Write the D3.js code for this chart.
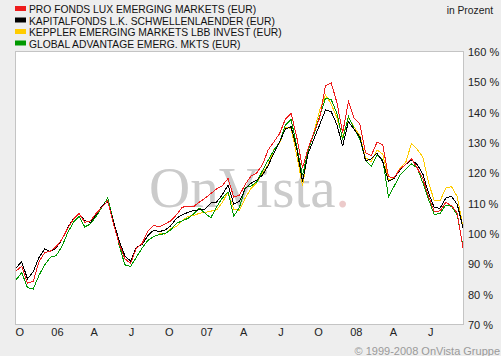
<!DOCTYPE html>
<html><head><meta charset="utf-8">
<script src="https://cdn.jsdelivr.net/npm/d3@7"></script>
<style>
html,body{margin:0;padding:0;background:#eeeeee;}
svg{display:block;font-family:"Liberation Sans",Arial,sans-serif;}
</style></head>
<body>
<svg id="chart" width="501" height="356"></svg>
<script>
// ---- data ----
const startDate = "2005-09-23";
const stepDays = 14;
const seriesNames = [
  "PRO FONDS LUX EMERGING MARKETS (EUR)",
  "KAPITALFONDS L.K. SCHWELLENLAENDER (EUR)",
  "KEPPLER EMERGING MARKETS LBB INVEST (EUR)",
  "GLOBAL ADVANTAGE EMERG. MKTS (EUR)"
];
const seriesColors = ["#ee1c1c", "#000000", "#ffcc00", "#009900"];
const proFonds = [87.5,89,83.5,84,90.5,93.5,94,95.5,97.8,101.5,104.5,106.5,103.5,104,106.5,108.5,110.6,103,96.5,91.5,90,95,96.5,100.5,102.5,102,103,104,106,108.5,108.8,108.7,110.2,111.5,113,114.5,115.6,118,111.8,112.5,116,118.8,119.8,122.5,127.4,130,132.8,137.5,139.5,131.5,121.5,128,133.2,138,148.5,149.5,143,133,143.3,137.8,136,126.5,125.5,130,129,118.5,118.3,121.1,122.6,124.5,121.5,117.8,112,107,107.3,110.1,109,106.5,95];
const kapitalfonds = [88.5,90.5,84.9,87.2,91.9,94.7,93.9,95,97.8,101.8,104.6,106.2,104.1,103.5,106.1,108.8,110.4,103.9,97.4,92.5,90.7,95.3,96.2,99.1,100.9,100.5,100.9,102.4,104.9,106,106.8,107.5,107.6,107.9,109.9,110.2,112.6,115.8,109.5,110.4,114.6,116.4,117.4,119.1,122.2,126.4,130,134.3,135,127.7,117,126.3,131.1,135.7,140.6,140,135.7,128.6,136.7,134.2,131.7,123.8,124.4,126.3,123.5,117,118.1,120.7,122.6,124.1,122.6,119.4,113.1,108.3,108.2,111.5,112.1,109.4,101.8];
const keppler = [null,null,null,null,null,null,null,null,null,null,null,null,null,null,null,null,null,null,null,null,null,null,null,null,null,100,99.6,101.5,102.2,104,105.5,105.8,106.5,106.8,107.2,107.6,110,113.6,107.8,107.5,111.5,114.7,116.5,119.8,122.5,127.5,129.5,134.8,134.5,125.5,115.5,127.4,133.4,140.5,145.5,142.5,138,131.5,138,135,132,124.8,123.5,127.4,126,117.5,118,121.4,123.2,129.5,127.6,125,116.5,110.6,110.6,114.8,115.3,112,102];
const globalAdv = [84.5,87,82,81.5,86,89.5,92,92.5,95.5,100,103.5,105.5,102,103,105.5,108.5,111.5,104,96,89.5,89,92,95,97.5,98.8,99.5,99.8,101,103.2,104,104.8,106.3,108.2,106.5,105,108.6,111.5,113.5,105.5,108.5,115,115.5,116.8,120.5,124,127.3,130,135.5,137.5,128.5,119,127.4,132.8,138.5,144.5,144,139.5,130.7,138.5,134.3,131,124,122,125.7,124,112,115.5,119,121,122.8,121.5,116.5,111,106,106.5,109.2,108.8,106,95.5];
const yTicks = [70,80,90,100,110,120,130,140,150,160];
const xTickDates = ["2005-10-01","2006-01-01","2006-04-01","2006-07-01","2006-10-01","2007-01-01","2007-04-01","2007-07-01","2007-10-01","2008-01-01","2008-04-01","2008-07-01"];
const xTickLabels = ["O","06","A","J","O","07","A","J","O","08","A","J"];

// ---- build ----
const parse = d3.timeParse("%Y-%m-%d");
const d0 = parse(startDate);
const n = kapitalfonds.length;
const dates = d3.range(n).map(i => d3.timeDay.offset(d0, i * stepDays));
const allSeries = [proFonds, kapitalfonds, keppler, globalAdv];

const svg = d3.select("#chart");
const plot = {left: 15, top: 51, right: 463, bottom: 324};

const x = d3.scaleTime().domain([dates[0], dates[n - 1]]).range([16, 463]);
const y = d3.scaleLinear().domain([70, 160]).range([plot.bottom, plot.top]);

// background
svg.append("rect").attr("width", 501).attr("height", 356).attr("fill", "#eeeeee");
svg.append("rect")
  .attr("x", plot.left + 0.5).attr("y", plot.top + 0.5)
  .attr("width", plot.right - plot.left).attr("height", plot.bottom - plot.top)
  .attr("fill", "#ffffff").attr("stroke", "#c4c4c4").attr("stroke-width", 1);

// watermark
const wm = svg.append("text").attr("x", 149).attr("y", 207)
  .attr("font-family", "'Liberation Serif','Times New Roman',serif")
  .attr("font-size", 57).attr("fill", "#cbcbcb");
wm.append("tspan").text("OnVista");
wm.append("tspan").attr("fill", "#eccaca").text(".");

// y axis labels
const yAxis = d3.axisRight(y).tickValues(yTicks).tickSize(0).tickPadding(0)
  .tickFormat(d => d + " %");
const gy = svg.append("g").attr("transform", "translate(468,0)").call(yAxis);
gy.select(".domain").remove();
gy.selectAll("text").attr("font-size", 11).attr("fill", "#222").attr("dy", "0.4em")
  .attr("font-family", "'Liberation Sans',Arial,sans-serif");

// x axis labels
const xAxis = d3.axisBottom(x).tickValues(xTickDates.map(parse)).tickSize(0).tickPadding(0)
  .tickFormat((d, i) => xTickLabels[i]);
const gx = svg.append("g").attr("transform", "translate(0,328)").call(xAxis);
gx.select(".domain").remove();
gx.selectAll("text").attr("font-size", 11).attr("fill", "#222").attr("dy", "0.71em")
  .attr("font-family", "'Liberation Sans',Arial,sans-serif");

// lines
const line = d3.line()
  .defined(d => d.v != null)
  .x(d => x(d.date)).y(d => y(d.v));
const drawOrder = [2, 3, 1, 0];
drawOrder.forEach(k => {
  const pts = allSeries[k].map((v, i) => ({date: dates[i], v}));
  svg.append("path").datum(pts)
    .attr("d", line).attr("fill", "none")
    .attr("stroke", seriesColors[k]).attr("stroke-width", 1)
    .attr("shape-rendering", "crispEdges")
    .attr("stroke-linejoin", "miter");
});

// legend
const leg = svg.append("g");
seriesNames.forEach((name, i) => {
  const yy = 6 + i * 11.5;
  leg.append("rect").attr("x", 15).attr("y", yy).attr("width", 11).attr("height", 5)
    .attr("fill", seriesColors[i]);
  leg.append("text").attr("x", 29).attr("y", yy + 7).attr("font-size", 10.3)
    .attr("fill", "#111").text(name);
});

svg.append("text").attr("x", 493).attr("y", 14).attr("text-anchor", "end")
  .attr("font-size", 10.3).attr("fill", "#222").text("in Prozent");
svg.append("text").attr("x", 500).attr("y", 355).attr("text-anchor", "end")
  .attr("font-size", 11).attr("fill", "#9a9a9a").text("© 1999-2008 OnVista Gruppe");
</script>
</body></html>
